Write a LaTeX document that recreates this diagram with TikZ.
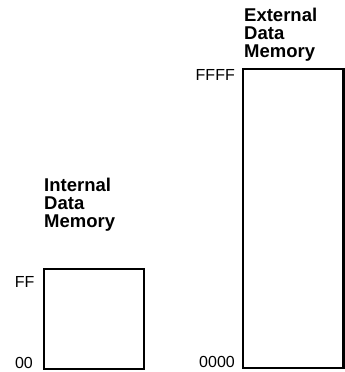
\documentclass[tikz,border=0pt]{standalone}
\usepackage{fontspec}
\setmainfont{Liberation Sans}
\begin{document}
\begin{tikzpicture}[x=1pt,y=-1pt,
  membox/.style={line width=2.8pt},
  memtitle/.style={anchor=base west,align=left,inner sep=0pt,
    font=\fontsize{18.5}{18}\selectfont\bfseries},
  addr/.style={anchor=base east,inner sep=0pt,font=\fontsize{16}{18}\selectfont}]
\useasboundingbox (0,0) rectangle (345,372);
% internal data memory block
\draw[membox] (44,269) rectangle (144,369);
\node[memtitle] (intT) at (44,227) {Internal\\Data\\Memory};
\node[addr] (ff) at (34.5,287) {FF};
\node[addr] (z2) at (33,368) {00};
% external data memory block
\draw[membox] (243,69) rectangle (343.6,368);
\node[memtitle] (extT) at (244,57) {External\\Data\\Memory};
\node[addr] (ffff) at (235,80) {FFFF};
\node[addr] (z4) at (235,367) {0000};
\end{tikzpicture}
\end{document}
